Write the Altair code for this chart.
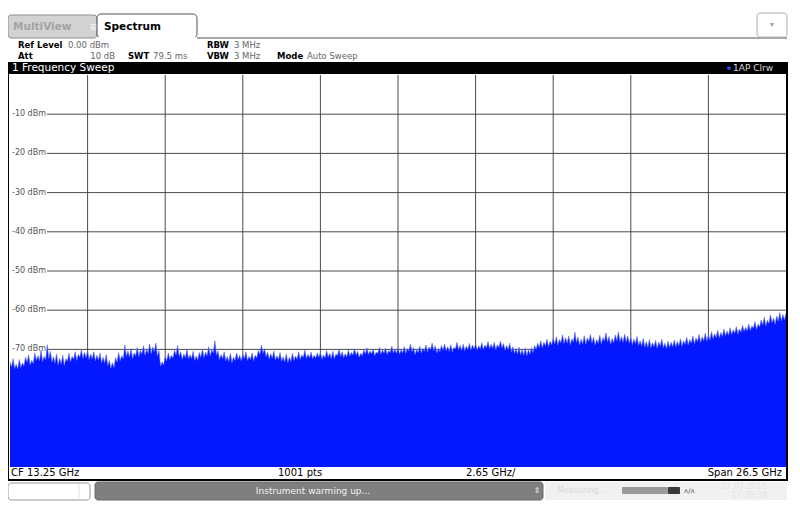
import altair as alt
import numpy as np
import pandas as pd

# ---- data ----
span_ghz = 26.5
ref_level = 0.0
bottom_level = -100.0
freq_grid = [2.65, 5.3, 7.95, 10.6, 13.25, 15.9, 18.55, 21.2, 23.85]
level_grid = [-10, -20, -30, -40, -50, -60, -70, -80, -90]
level_labels = ["-10 dBm", "-20 dBm", "-30 dBm", "-40 dBm", "-50 dBm", "-60 dBm", "-70 dBm", "", ""]

# spike tops of the trace (dBm)
trace_peaks = [
    -73.2, -72.4, -73.8, -72.6, -73.5, -72.0, -71.4, -72.8, -70.9, -71.6, -70.2, -71.8, -68.8, -70.5, -71.9, -71.2, -72.3, -71.5, -72.4, -71.0, -71.8, -70.6, -71.3, -70.1, -70.8,
    -70.4, -71.2, -70.6, -71.5, -70.9, -72.0, -71.3, -72.8, -73.4, -72.1, -70.8, -71.6, -68.9, -70.4, -69.8, -70.9, -69.5, -70.2, -69.1, -70.0, -68.6, -69.4, -68.4, -70.3, -73.2,
    -71.8, -70.9, -71.5, -70.2, -69.0, -70.6, -71.2, -70.0, -71.4, -70.5, -71.7, -70.8, -69.9, -70.7, -69.3, -70.1, -67.8, -70.4, -71.3, -70.6, -71.8, -71.0, -72.0, -70.9, -71.5,
    -71.2, -70.6, -71.8, -70.9, -71.5, -70.3, -68.9, -69.8, -70.7, -71.1, -70.4, -71.6, -70.8, -71.9, -71.2, -72.0, -71.0, -71.7, -70.6, -71.4, -70.2, -71.3, -70.7, -71.5, -70.9,
    -70.8, -71.4, -70.3, -71.0, -70.5, -71.2, -69.9, -70.6, -71.1, -70.2, -70.8, -69.8, -70.5, -71.0, -70.1, -69.6, -70.4, -69.9, -70.7, -69.5, -70.2, -69.7, -70.3, -69.2, -69.9,
    -69.6, -70.1, -69.3, -69.8, -68.7, -69.5, -70.0, -69.2, -69.7, -68.9, -69.4, -68.4, -69.1, -69.8, -69.0, -68.6, -69.3, -68.8, -69.5, -68.2, -69.0, -68.7, -69.2, -68.5, -68.9,
    -68.6, -69.1, -68.3, -68.9, -68.0, -68.7, -68.2, -68.8, -67.9, -68.5, -69.0, -68.4, -69.3, -69.8, -69.4, -70.0, -69.6, -70.1, -69.5, -69.0, -68.4, -67.8, -68.2, -67.4, -67.9,
    -67.2, -66.8, -67.5, -66.3, -67.0, -66.6, -67.3, -65.6, -66.9, -67.4, -66.5, -67.1, -66.2, -66.9, -67.5, -66.4, -67.0, -65.8, -66.7, -67.2, -66.3, -65.5, -66.8, -66.1, -66.6,
    -66.9, -67.4, -66.7, -67.8, -67.2, -68.0, -67.5, -68.3, -67.7, -68.1, -67.4, -68.4, -67.9, -68.2, -67.6, -68.0, -67.3, -67.8, -66.9, -67.5, -66.6, -67.1, -66.2, -66.8, -65.9,
    -66.3, -65.5, -66.0, -65.1, -65.7, -64.8, -65.3, -64.5, -65.0, -64.2, -64.8, -63.9, -64.4, -63.5, -64.0, -62.9, -63.6, -62.5, -61.8, -62.6, -61.2, -62.0, -61.5, -60.6, -61.1,
    -60.8,
]

# solid fill level between consecutive spikes (dBm)
trace_floor = [
    -74.5, -74.9, -75.0, -74.6, -74.2, -73.3, -74.0, -73.6, -72.8, -72.9, -73.1, -72.6, -72.4, -73.2, -73.5, -74.0, -73.7, -74.1, -73.0, -73.2, -72.5, -72.8, -72.0, -72.3, -72.1,
    -72.6, -72.4, -72.9, -72.7, -73.4, -73.5, -74.1, -74.8, -74.6, -73.2, -72.9, -72.3, -71.8, -72.0, -72.4, -71.6, -71.9, -71.2, -71.5, -70.9, -71.1, -70.6, -71.7, -74.3, -74.0,
    -72.9, -72.6, -72.2, -71.4, -71.8, -72.5, -72.1, -72.4, -72.3, -72.8, -72.7, -72.0, -72.1, -71.6, -71.7, -70.9, -71.5, -72.6, -72.4, -72.9, -73.1, -73.4, -72.8, -72.6, -72.9,
    -72.4, -72.8, -72.6, -72.9, -72.1, -71.3, -71.0, -71.9, -72.4, -72.2, -72.7, -72.5, -73.0, -73.2, -73.4, -73.1, -72.8, -72.5, -72.6, -72.0, -72.3, -72.1, -72.4, -72.2, -72.0,
    -72.5, -72.2, -72.0, -72.3, -72.4, -71.6, -71.8, -72.1, -71.9, -71.7, -71.4, -71.5, -72.0, -71.6, -71.2, -71.3, -71.1, -71.6, -71.0, -71.2, -70.9, -71.3, -70.8, -70.9, -71.0,
    -71.2, -70.9, -71.0, -70.4, -70.6, -71.3, -70.8, -70.9, -70.5, -70.7, -70.1, -70.3, -70.9, -70.6, -70.2, -70.4, -70.5, -70.6, -69.9, -70.1, -70.3, -70.4, -70.0, -70.2, -69.9,
    -70.2, -69.9, -70.0, -69.6, -69.8, -69.7, -70.1, -69.5, -69.6, -70.2, -70.0, -70.6, -71.0, -71.2, -71.4, -71.5, -71.6, -71.2, -70.8, -70.0, -69.5, -69.6, -69.1, -69.3, -68.8,
    -68.6, -68.9, -68.3, -68.5, -68.4, -68.8, -68.1, -68.2, -68.9, -68.6, -68.7, -68.0, -68.4, -68.9, -68.5, -68.6, -67.9, -68.1, -68.7, -68.3, -67.8, -68.0, -68.2, -68.1, -68.4,
    -68.8, -68.5, -69.0, -69.1, -69.4, -69.5, -69.6, -69.3, -69.7, -69.2, -69.6, -69.8, -69.5, -69.3, -69.4, -69.1, -69.2, -68.7, -68.9, -68.4, -68.6, -68.0, -68.3, -67.8, -67.9,
    -67.6, -67.3, -67.0, -67.1, -66.7, -66.5, -66.4, -66.2, -65.9, -66.1, -65.6, -65.4, -65.3, -65.2, -64.6, -64.9, -64.3, -63.8, -64.0, -63.4, -63.2, -63.6, -62.8, -62.7, -62.5,
]

FONT = "DejaVu Sans"
BLUE = "#0318FF"

trace_dbm = []
for i, p in enumerate(trace_peaks):
    trace_dbm.append(p)
    if i < len(trace_floor):
        trace_dbm.append(trace_floor[i])

trace = pd.DataFrame({
    "f": np.linspace(0, span_ghz, len(trace_dbm)),
    "dbm": trace_dbm,
})
vgrid = pd.DataFrame({"f": freq_grid})
hgrid = pd.DataFrame({"dbm": level_grid, "label": level_labels})
dummy = pd.DataFrame({"a": [0]})

xs = alt.Scale(domain=[0, span_ghz], nice=False, zero=False)
ys = alt.Scale(domain=[bottom_level, ref_level], nice=False, zero=False)


def txt(s, x, y, size=8.5, bold=False, color="#000000", align="left"):
    return alt.Chart(dummy).mark_text(
        text=s, fontSize=size, fontWeight="bold" if bold else "normal",
        color=color, align=align, baseline="middle", font=FONT
    ).encode(x=alt.value(x), y=alt.value(y))


def box(x1, x2, y1, y2, fill, stroke=None, radius=0, sw=1):
    kw = dict(fill=fill, cornerRadius=radius)
    if stroke:
        kw["stroke"] = stroke
        kw["strokeWidth"] = sw
    return alt.Chart(dummy).mark_rect(**kw).encode(
        x=alt.value(x1), x2=alt.value(x2), y=alt.value(y1), y2=alt.value(y2)
    )


# grid
vlines = alt.Chart(vgrid).mark_rule(color="#4a4a4a", strokeWidth=1).encode(
    x=alt.X("f:Q", scale=xs, axis=None)
)
hlines = alt.Chart(hgrid).mark_rule(color="#4a4a4a", strokeWidth=1).encode(
    y=alt.Y("dbm:Q", scale=ys, axis=None), x=alt.value(37), x2=alt.value(776)
)
hlabels = alt.Chart(hgrid).mark_text(
    align="left", baseline="middle", fontSize=8, color="#555555", font=FONT
).encode(y=alt.Y("dbm:Q", scale=ys, axis=None), x=alt.value(2), text="label:N")

area = alt.Chart(trace).mark_area(color=BLUE, interpolate="linear").encode(
    x=alt.X("f:Q", scale=xs, axis=None),
    y=alt.Y("dbm:Q", scale=ys, axis=None),
    y2=alt.datum(bottom_level),
)
edge = alt.Chart(trace).mark_line(color="#5a6cff", strokeWidth=0.6, interpolate="linear").encode(
    x=alt.X("f:Q", scale=xs, axis=None),
    y=alt.Y("dbm:Q", scale=ys, axis=None),
)

layers = [
    vlines, hlines, hlabels, area, edge,
    # frame and title bar
    box(-2, 778, -13, -1, "#000000", radius=2),
    box(-5, -1, -13, 406, "#000000"),
    box(776, 778, -13, 406, "#000000"),
    box(-5, 778, 404, 406, "#000000"),
    box(0, 776, 392, 404, "#ffffff"),
    txt("1 Frequency Sweep", 2, -7, size=10.5, color="#ffffff"),
    alt.Chart(dummy).mark_point(filled=True, color="#2a4bff", size=14, opacity=1).encode(
        x=alt.value(719), y=alt.value(-7)),
    txt("1AP Clrw", 723, -7, size=9, color="#d8d8d8"),
    # footer
    txt("CF 13.25 GHz", 1, 398, size=10),
    txt("1001 pts", 268, 398, size=10),
    txt("2.65 GHz/", 456, 398, size=10),
    txt("Span 26.5 GHz", 772, 398, size=10, align="right"),
    # tabs
    box(-2, 87, -60, -37, "#d2d2d2", stroke="#8c8c8c", radius=3),
    txt("MultiView", 3, -48, size=10.5, bold=True, color="#a3a3a3"),
    txt("⊞", 80, -48, size=9, color="#f2f2f2"),
    box(87, 187, -61, -37, "#ffffff", stroke="#505050", radius=4),
    alt.Chart(dummy).mark_rule(color="#505050", strokeWidth=1).encode(
        x=alt.value(187), x2=alt.value(777), y=alt.value(-37)),
    box(88, 186, -38, -35, "#ffffff"),
    txt("Spectrum", 94, -48, size=10.5, bold=True),
    box(747, 777, -62, -38, "#ffffff", stroke="#b0b0b0", radius=3),
    txt("▾", 762, -50, size=8, color="#a0a0a0", align="center"),
    # header
    txt("Ref Level", 8, -30, bold=True),
    txt("0.00 dBm", 58, -30, color="#666666"),
    txt("Att", 8, -19, bold=True),
    txt("10 dB", 105, -19, color="#666666", align="right"),
    txt("SWT", 118, -19, bold=True),
    txt("79.5 ms", 143, -19, color="#666666"),
    txt("RBW", 197, -30, bold=True),
    txt("3 MHz", 224, -30, color="#666666"),
    txt("VBW", 197, -19, bold=True),
    txt("3 MHz", 224, -19, color="#666666"),
    txt("Mode", 267, -19, bold=True),
    txt("Auto Sweep", 297, -19, color="#666666"),
    # status bar
    box(-2, 80, 408, 425, "#ffffff", stroke="#9a9a9a", radius=3),
    alt.Chart(dummy).mark_rule(color="#e0e0e0").encode(
        x=alt.value(69), y=alt.value(409), y2=alt.value(424)),
    box(85, 533, 407, 425, "#7f7f7f", stroke="#6a6a6a", radius=3),
    txt("Instrument warming up...", 303, 416, size=9, color="#f2f2f2", align="center"),
    txt("⇕", 527, 416, size=8, color="#e8e8e8", align="center"),
    box(535, 777, 407, 425, "#f1f1f1"),
    txt("Measuring...", 547, 416, size=8, color="#d9d9d9"),
    box(612, 658, 412, 419, "#9a9a9a", radius=1),
    box(658, 670, 412, 419, "#3a3a3a", radius=1),
    txt("ᴧ/ᴧ", 674, 416, size=7, color="#555555"),
    txt("27.07.2015", 757, 412, size=8, color="#e4e4e4", align="right"),
    txt("17:39:39", 757, 421, size=8, color="#e4e4e4", align="right"),
]

chart = alt.layer(*layers).properties(
    width=776,
    height=392,
    autosize=alt.AutoSizeParams(type="none"),
    padding={"left": 2, "top": 67, "right": 6, "bottom": 40},
    background="#ffffff",
).configure_view(stroke=None)

chart.save("out.html", embed_options={"renderer": "svg", "actions": False})
